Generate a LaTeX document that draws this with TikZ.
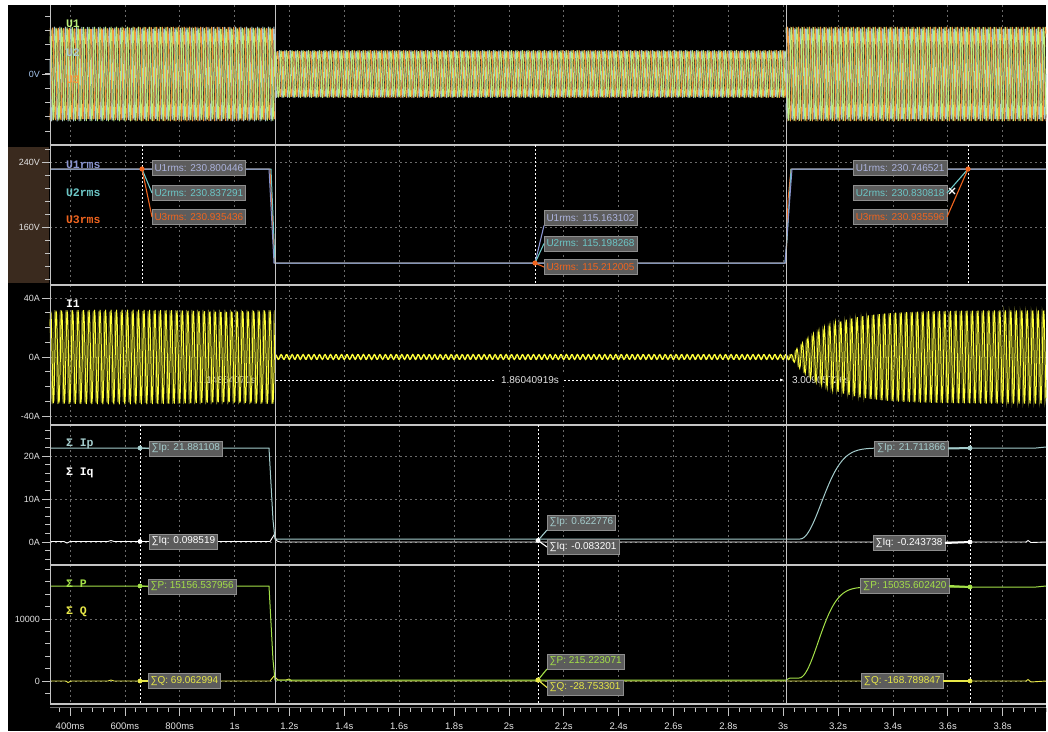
\documentclass[tikz,border=0pt]{standalone}
\usepackage{fontspec}
\usetikzlibrary{arrows.meta}
\setmainfont{Liberation Sans}
\newfontfamily\chfont{Liberation Mono}
\definecolor{sepc}{HTML}{C4C4C4}
\definecolor{gridc}{HTML}{6A6A6A}
\definecolor{labc}{HTML}{E4E4E4}
\definecolor{brownbg}{HTML}{3A2A1E}
\definecolor{u1c}{HTML}{8A94D0}
\definecolor{u2c}{HTML}{6CC6C6}
\definecolor{u3c}{HTML}{F0641E}
\definecolor{ipc}{HTML}{A4CCCC}
\definecolor{pc}{HTML}{A4E048}
\definecolor{qc}{HTML}{E8E848}
\definecolor{boxf}{HTML}{5C5C5C}
\definecolor{boxd}{HTML}{8E8E8E}
\definecolor{wgreen}{HTML}{BCF07C}
\definecolor{wblue}{HTML}{A8C8D4}
\definecolor{worange}{HTML}{F29A3C}
\definecolor{wbrown}{HTML}{6E4A24}
\definecolor{iy}{HTML}{FFFF38}
\definecolor{iolive}{HTML}{6C6C24}
\definecolor{zerov}{HTML}{A8C8F0}
\newcommand\mywave[7]{%
  \draw[#1,line width=1pt,line join=round] plot[domain=#2:#3,samples=#4] (\x,{#5-#6*sin(360*frac(\x/5.486)+#7)});}
\begin{document}
\begin{tikzpicture}[x=1pt,y=-1pt,
  every node/.style={inner sep=0pt,outer sep=0pt},
  tickm/.style={draw=sepc,line width=0.7pt},
  gridl/.style={draw=gridc,dash pattern=on 2pt off 3pt,line width=0.6pt},
  sepl/.style={draw=sepc,line width=1.1pt},
  ylab/.style={anchor=east,text=labc,font=\fontsize{9}{10}\selectfont},
  xlab/.style={anchor=center,text=labc,font=\fontsize{9.5}{10}\selectfont},
  chlab/.style={anchor=west,font=\chfont\bfseries\fontsize{11.5}{12}\selectfont},
  vbox/.style={draw=boxd,fill=boxf,line width=0.8pt,minimum height=15pt,inner xsep=2.5pt,font=\fontsize{10}{11}\selectfont},
  curd/.style={draw=white,dash pattern=on 2pt off 2pt,line width=0.7pt},
  curs/.style={draw=sepc,line width=1pt},
  conn/.style={line width=1.1pt},
  mtext/.style={text=labc,font=\fontsize{10}{11}\selectfont},
]
\useasboundingbox (0,0) rectangle (1048,731);
\fill[white] (0,0) rectangle (1048,731);
\fill[black] (8,5) rectangle (1046,731);
\fill[brownbg] (8,147) rectangle (49,283);
% vertical grid
\foreach \i in {0,...,17} \draw[gridl] ({70+\i*54.86},5) -- ({70+\i*54.86},703);
% horizontal grid
\foreach \y in {162,227,298,357,416,456,499,542,619,681} \draw[gridl] (50,\y) -- (1046,\y);
% measurement texts partly hidden under waveform
\node[mtext,anchor=west] (m0) at (198,380) {1.14864071s};
\node[mtext,anchor=west] (m2) at (792,380) {3.00905726s};
% ---- panel 1 waveforms
\mywave{wbrown}{50}{275}{410}{74}{47}{60}
\mywave{wbrown}{275}{786}{930}{74}{23.5}{60}
\mywave{wbrown}{786}{1046}{475}{74}{47}{60}
\mywave{wblue}{50}{275}{410}{74}{47}{120}
\mywave{wblue}{275}{786}{930}{74}{23.5}{120}
\mywave{wblue}{786}{1046}{475}{74}{47}{120}
\mywave{worange}{50}{275}{410}{74}{47}{240}
\mywave{worange}{275}{786}{930}{74}{23.5}{240}
\mywave{worange}{786}{1046}{475}{74}{47}{240}
\mywave{wgreen}{50}{275}{410}{74}{47}{0}
\mywave{wgreen}{275}{786}{930}{74}{23.5}{0}
\mywave{wgreen}{786}{1046}{475}{74}{47}{0}
% ---- panel 3 current
\mywave{iolive}{50}{275}{410}{357}{47}{90}
\mywave{iy}{50}{275}{410}{357}{47}{0}
\draw[iy,line width=1pt] (275,300) -- (275,416);
\draw[iy,line width=1.3pt] plot[domain=276:790,samples=700] (\x,{357-2.4*sin(360*frac(\x/5.486))});
\draw[iolive,line width=1pt] plot[domain=786:1046,samples=475] (\x,{357-max(2.5,47*(1-exp(-(\x-790)/35)))*sin(360*frac(\x/5.486)+90)});
\draw[iy,line width=1pt] plot[domain=786:1046,samples=475] (\x,{357-max(2.5,47*(1-exp(-(\x-790)/35)))*sin(360*frac(\x/5.486))});
% ---- panel 2 traces
\draw[u3c,line width=1pt] (50,169) -- (270,169) -- (273,230) -- (275,263) -- (786,263) -- (788,200) -- (791,169) -- (1046,169);
\draw[u2c,line width=1pt] (50,169) -- (271,169) -- (275,263) -- (785,263) -- (787,240) -- (791,169) -- (1046,169);
\draw[u1c,line width=1pt] (50,169) -- (269,169) -- (274,263) -- (785,263) -- (792,169) -- (1046,169);
% ---- panel 4 traces
\draw[white,line width=0.9pt] (50,541.5) -- (64,541.5) -- (67,543) -- (70,541.5) -- (108,541.5) -- (111,540.5) -- (114,541.5) -- (270,541.5) -- (274,535) -- (277,541) -- (280,542) -- (786,542) -- (1026,542) -- (1028,540.5) -- (1031,542.5) -- (1046,542);
\draw[ipc,line width=1pt] (50,448) -- (269,448) -- (273,520) -- (275,539) -- (800,539) -- plot[domain=800:890,samples=50] (\x,{539-91*(1-exp(-((\x-800)/30)^2))}) -- (1036,448) -- (1046,447);
% ---- panel 5 traces
\draw[qc,line width=0.9pt] (50,681) -- (66,681) -- (68,682.5) -- (71,681) -- (108,681) -- (111,680) -- (114,681) -- (270,681) -- (274,676) -- (278,680) -- (286,680) -- (289,679) -- (292,681) -- (1026,681) -- (1028,679.5) -- (1031,682) -- (1046,681);
\draw[pc,line width=1pt] (50,586) -- (269,586) -- (273,660) -- (275,680) -- (786,680) -- (790,678) -- (799,678) -- plot[domain=799:880,samples=50] (\x,{678-91*(1-exp(-((\x-799)/27)^2))}) -- (1036,587) -- (1046,586);
% ---- frames
\draw[sepc,line width=0.8pt] (50,5) -- (50,704);
\foreach \y in {145,285,425,565} \draw[sepl] (50,\y) -- (1046,\y);
\draw[sepl] (50,704) -- (1046,704);
\draw[draw=gridc,line width=0.8pt] (50,707.5) -- (1046,707.5);
% y ticks
\foreach \k in {0,...,8} \draw[tickm] (45,{16+\k*14.4}) -- (50,{16+\k*14.4});
\foreach \k in {0,...,10} \draw[tickm] (45,{149+\k*13}) -- (50,{149+\k*13});
\foreach \k in {0,...,8} \draw[tickm] (45,{298+\k*14.75}) -- (50,{298+\k*14.75});
\foreach \k in {-2,...,13} \draw[tickm] (45,{542-\k*8.6}) -- (50,{542-\k*8.6});
\foreach \k in {-1,...,9} \draw[tickm] (45,{681-\k*12.4}) -- (50,{681-\k*12.4});
\foreach \y in {74,162,227,298,357,416,456,499,542,619,681} \draw[tickm] (42,\y) -- (50,\y);
% x ticks
\foreach \i in {-1,...,89} \draw[tickm] ({70+\i*10.972},708) -- ({70+\i*10.972},712);
\foreach \i in {0,...,17} \draw[tickm] ({70+\i*54.86},708) -- ({70+\i*54.86},716);
\foreach \l [count=\i from 0] in {400ms,600ms,800ms,1s,1.2s,1.4s,1.6s,1.8s,2s,2.2s,2.4s,2.6s,2.8s,3s,3.2s,3.4s,3.6s,3.8s}
  \node[xlab] (xl\i) at ({70+\i*54.86},726) {\l};
% y labels
\node[ylab,text=zerov] (y0v) at (40,74) {0V};
\node[ylab] (y240) at (40,162) {240V};
\node[ylab] (y160) at (40,227) {160V};
\node[ylab] (y40) at (40,298) {40A};
\node[ylab] (y0a) at (40,357) {0A};
\node[ylab] (ym40) at (40,416) {-40A};
\node[ylab] (y20) at (40,456) {20A};
\node[ylab] (y10) at (40,499) {10A};
\node[ylab] (y0b) at (40,542) {0A};
\node[ylab] (y1e4) at (40,619) {10000};
\node[ylab] (yz) at (40,681) {0};
% channel labels
\node[chlab,text=wgreen] (cu1) at (66,24) {U1};
\node[chlab,text=wblue] (cu2) at (66,53) {U2};
\node[chlab,text=worange] (cu3) at (66,80) {U3};
\node[chlab,text=u1c] (cr1) at (66,165) {U1rms};
\node[chlab,text=u2c] (cr2) at (66,193) {U2rms};
\node[chlab,text=u3c] (cr3) at (66,220) {U3rms};
\node[chlab,text=white] (ci1) at (66,304) {I1};
\node[chlab,text=ipc] (cip) at (66,444) {Σ Ip};
\node[chlab,text=white] (ciq) at (66,473) {Σ Iq};
\node[chlab,text=pc] (cp) at (66,584) {Σ P};
\node[chlab,text=qc] (cq) at (66,612) {Σ Q};
% cursors
\draw[curs] (275,5) -- (275,704);
\draw[curs] (786,5) -- (786,704);
\foreach \x in {142,535,968} \draw[curd] (\x,145) -- (\x,285);
\foreach \x in {140,538,970} \draw[curd] (\x,425) -- (\x,704);
% measurement
\coordinate (ms) at (276,380);
\coordinate (me) at (784,380);
\draw[white,dash pattern=on 2pt off 2pt,line width=0.6pt,-{Latex[length=4pt,width=3pt]}] (ms) -- (me);
\node[mtext,fill=black,inner xsep=5pt,inner ysep=2pt] (m1) at (530,380) {1.86040919s};
% ---- panel 2 annotations
\coordinate (pa) at (142,169);
\node[vbox,anchor=west,text=u1c!70!white] (a1) at (152,168) {U1rms: 230.800446};
\node[vbox,anchor=west,text=u2c] (a2) at (152,193) {U2rms: 230.837291};
\node[vbox,anchor=west,text=u3c] (a3) at (152,217) {U3rms: 230.935436};
\draw[u2c,conn] (pa) -- (a2.west);
\draw[u3c,conn] (pa) -- (a3.west);
\fill[u3c] (pa) circle (2.6);
\coordinate (pb) at (535,263);
\node[vbox,anchor=west,text=u1c!70!white] (b1) at (544,218) {U1rms: 115.163102};
\node[vbox,anchor=west,text=u2c] (b2) at (544,243.5) {U2rms: 115.198268};
\node[vbox,anchor=west,text=u3c] (b3) at (544,267) {U3rms: 115.212005};
\draw[u1c,conn] (pb) -- (b1.south west);
\draw[u2c,conn] (pb) -- (b2.west);
\draw[u3c,conn] (pb) -- (b3.west);
\fill[u3c] (pb) circle (2.6);
\coordinate (pc0) at (968,169);
\node[vbox,anchor=east,text=u1c!70!white] (c1) at (947,168) {U1rms: 230.746521};
\node[vbox,anchor=east,text=u2c] (c2) at (947,193) {U2rms: 230.830818};
\node[vbox,anchor=east,text=u3c] (c3) at (947,217) {U3rms: 230.935596};
\draw[u2c,conn] (pc0) -- (c2.east);
\draw[u3c,conn] (pc0) -- (c3.east);
\fill[u3c] (pc0) circle (2.6);
\coordinate (xm) at (952,191);
\draw[white,line width=1.3pt] ([shift={(-3,-3)}]xm) -- ([shift={(3,3)}]xm) ([shift={(-3,3)}]xm) -- ([shift={(3,-3)}]xm);
% ---- panel 4 annotations
\coordinate (qa1) at (140,448);
\coordinate (qa2) at (140,541.5);
\node[vbox,anchor=west,text=ipc] (d1) at (149,448.5) {∑Ip: 21.881108};
\node[vbox,anchor=west,text=white] (d2) at (149,541.5) {∑Iq: 0.098519};
\draw[ipc,conn] (qa1) -- (d1.west);
\draw[white,conn] (qa2) -- (d2.west);
\fill[ipc] (qa1) circle (2.4);
\fill[white] (qa2) circle (2.4);
\coordinate (qb) at (538,540.5);
\node[vbox,anchor=west,text=ipc] (e1) at (547,522.5) {∑Ip: 0.622776};
\node[vbox,anchor=west,text=white] (e2) at (547,547) {∑Iq: -0.083201};
\draw[ipc,conn] (qb) -- (e1.south west);
\draw[white,conn] (qb) -- (e2.west);
\fill[white] (qb) circle (2.4);
\coordinate (qc1) at (970,448);
\coordinate (qc2) at (970,542);
\node[vbox,anchor=east,text=ipc] (f1) at (948,448.5) {∑Ip: 21.711866};
\node[vbox,anchor=east,text=white] (f2) at (945,543) {∑Iq: -0.243738};
\draw[ipc,line width=2pt] (f1.east) -- (qc1);
\draw[white,line width=2pt] (f2.east) -- (qc2);
\fill[ipc] (qc1) circle (2.4);
\fill[white] (qc2) circle (2.4);
% ---- panel 5 annotations
\coordinate (ra1) at (140,586);
\coordinate (ra2) at (140,681);
\node[vbox,anchor=west,text=pc] (g1) at (148,586.5) {∑P: 15156.537956};
\node[vbox,anchor=west,text=qc] (g2) at (148,681) {∑Q: 69.062994};
\draw[pc,conn] (ra1) -- (g1.west);
\draw[qc,conn] (ra2) -- (g2.west);
\fill[pc] (ra1) circle (2.4);
\fill[qc] (ra2) circle (2.4);
\coordinate (rb) at (538,680);
\node[vbox,anchor=west,text=pc] (h1) at (547,661.5) {∑P: 215.223071};
\node[vbox,anchor=west,text=qc] (h2) at (547,687.5) {∑Q: -28.753301};
\draw[pc,conn] (rb) -- (h1.south west);
\draw[qc,conn] (rb) -- (h2.west);
\fill[qc] (rb) circle (2.6);
\coordinate (rc1) at (970,587);
\coordinate (rc2) at (970,681);
\node[vbox,anchor=east,text=pc] (k1) at (949,586) {∑P: 15035.602420};
\node[vbox,anchor=east,text=qc] (k2) at (943,681) {∑Q: -168.789847};
\draw[pc,line width=2pt] (k1.east) -- (rc1);
\draw[qc,line width=2pt] (k2.east) -- (rc2);
\fill[pc] (rc1) circle (2.4);
\fill[qc] (rc2) circle (2.4);
\end{tikzpicture}
\end{document}
